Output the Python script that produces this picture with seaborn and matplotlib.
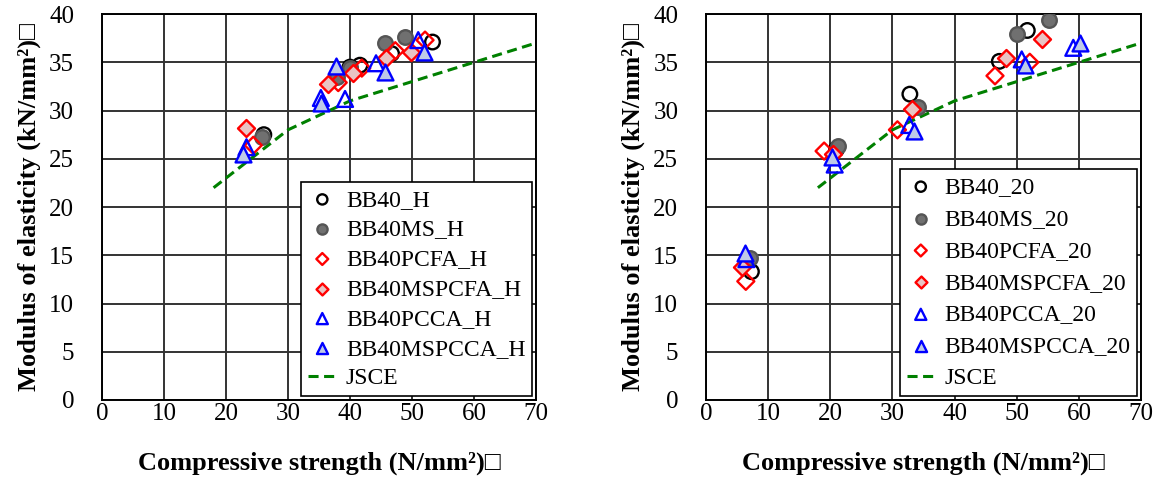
import numpy as np
import pandas as pd
import seaborn as sns
import matplotlib.pyplot as plt

# Datos (resistencia N/mm2, modulo kN/mm2)
# Panel izquierdo: curado _H
bb40_h_x = [26.1, 40.0, 41.6, 46.7, 53.3]
bb40_h_y = [27.5, 34.5, 34.7, 35.9, 37.1]
bb40ms_h_x = [25.8, 37.9, 40.0, 45.6, 48.9]
bb40ms_h_y = [27.3, 33.5, 34.4, 37.0, 37.6]
bb40pcfa_h_x = [24.4, 38.1, 41.9, 47.3, 52.1]
bb40pcfa_h_y = [26.4, 32.9, 34.4, 36.2, 37.3]
bb40mspcfa_h_x = [23.3, 36.5, 40.5, 45.8, 49.9]
bb40mspcfa_h_y = [28.2, 32.8, 33.9, 35.4, 36.1]
bb40pcca_h_x = [23.3, 35.3, 39.2, 44.2, 51.0]
bb40pcca_h_y = [26.2, 31.3, 31.2, 34.9, 37.3]
bb40mspcca_h_x = [22.8, 35.4, 37.8, 45.6, 52.0]
bb40mspcca_h_y = [25.5, 30.8, 34.6, 34.0, 36.1]

# Panel derecho: curado _20
bb40_20_x = [7.3, 21.0, 32.8, 47.2, 51.7]
bb40_20_y = [13.3, 26.0, 31.7, 35.1, 38.3]
bb40ms_20_x = [7.1, 21.3, 34.1, 50.1, 55.2]
bb40ms_20_y = [14.7, 26.3, 30.4, 37.9, 39.4]
bb40pcfa_20_x = [6.4, 19.0, 30.8, 46.5, 52.1]
bb40pcfa_20_y = [12.3, 25.8, 28.0, 33.6, 35.0]
bb40mspcfa_20_x = [5.8, 20.5, 33.2, 48.2, 54.1]
bb40mspcfa_20_y = [13.8, 25.5, 30.2, 35.4, 37.4]
bb40pcca_20_x = [6.5, 20.7, 32.7, 50.8, 59.1]
bb40pcca_20_y = [14.6, 24.4, 28.5, 35.3, 36.5]
bb40mspcca_20_x = [6.2, 20.2, 33.4, 51.3, 60.1]
bb40mspcca_20_y = [15.2, 25.2, 27.9, 34.7, 37.0]

# Curva JSCE
jsce_x = [18, 24, 30, 40, 50, 60, 70]
jsce_y = [22, 25, 28, 31, 33, 35, 37]

sns.set_style("white")
plt.rcParams['font.family'] = ['Liberation Serif', 'DejaVu Serif']
for k in ['text.color', 'axes.labelcolor', 'xtick.color', 'ytick.color']:
    plt.rcParams[k] = 'black'

# estilos: (marker, relleno, borde)
estilos = [
    ('o', 'none', 'black'),
    ('o', '#707070', '#555555'),
    ('D', 'none', 'red'),
    ('D', '#e9c4c4', 'red'),
    ('^', 'none', 'blue'),
    ('^', '#bfcae8', 'blue'),
]
tamanos = {'o': 110, 'D': 75, '^': 130}


def dibujar(ax, series, sufijo, labelspacing):
    nombres = ['BB40', 'BB40MS', 'BB40PCFA', 'BB40MSPCFA', 'BB40PCCA', 'BB40MSPCCA']
    for (xs, ys), nombre, (m, fc, ec) in zip(series, nombres, estilos):
        sns.scatterplot(x=xs, y=ys, marker=m, s=tamanos[m], color=fc, edgecolor=ec,
                        linewidth=1.7, ax=ax, label=f'{nombre}_{sufijo}', zorder=3)
    sns.lineplot(x=jsce_x, y=jsce_y, color='green', linestyle=(0, (3.3, 1.8)), linewidth=2.2,
                 ax=ax, label='JSCE', zorder=2)
    ax.set_xlim(0, 70)
    ax.set_ylim(0, 40)
    ax.set_xticks(range(0, 71, 10))
    ax.set_yticks(range(0, 41, 5))
    ax.grid(True, color='#333333', linewidth=1.4)
    ax.set_axisbelow(True)
    for s in ax.spines.values():
        s.set_color('black')
        s.set_linewidth(1.4)
    ax.tick_params(length=0, labelsize=18)
    ax.tick_params(axis='x', pad=2)
    ax.tick_params(axis='y', pad=20)
    ax.set_xlabel('Compressive strength (N/mm²)□', fontsize=19, fontweight='bold', labelpad=19)
    ax.set_ylabel('Modulus of elasticity (kN/mm²)□', fontsize=19, fontweight='bold', labelpad=6)
    leg = ax.legend(loc='lower right', fontsize=17, frameon=True, fancybox=False,
                    edgecolor='black', framealpha=1, markerscale=0.7, handlelength=1.2,
                    handletextpad=0.4, labelspacing=labelspacing, borderaxespad=0.15,
                    borderpad=0.3)
    leg.get_frame().set_linewidth(1.2)


fig = plt.figure(figsize=(11.55, 4.8), dpi=100)
ax1 = fig.add_axes([0.0883, 0.1667, 0.3758, 0.804])
ax2 = fig.add_axes([0.6113, 0.1667, 0.3766, 0.804])

dibujar(ax1, [(bb40_h_x, bb40_h_y), (bb40ms_h_x, bb40ms_h_y), (bb40pcfa_h_x, bb40pcfa_h_y),
              (bb40mspcfa_h_x, bb40mspcfa_h_y), (bb40pcca_h_x, bb40pcca_h_y),
              (bb40mspcca_h_x, bb40mspcca_h_y)], 'H', 0.35)
dibujar(ax2, [(bb40_20_x, bb40_20_y), (bb40ms_20_x, bb40ms_20_y), (bb40pcfa_20_x, bb40pcfa_20_y),
              (bb40mspcfa_20_x, bb40mspcfa_20_y), (bb40pcca_20_x, bb40pcca_20_y),
              (bb40mspcca_20_x, bb40mspcca_20_y)], '20', 0.44)

plt.savefig('out.png', dpi=100)
